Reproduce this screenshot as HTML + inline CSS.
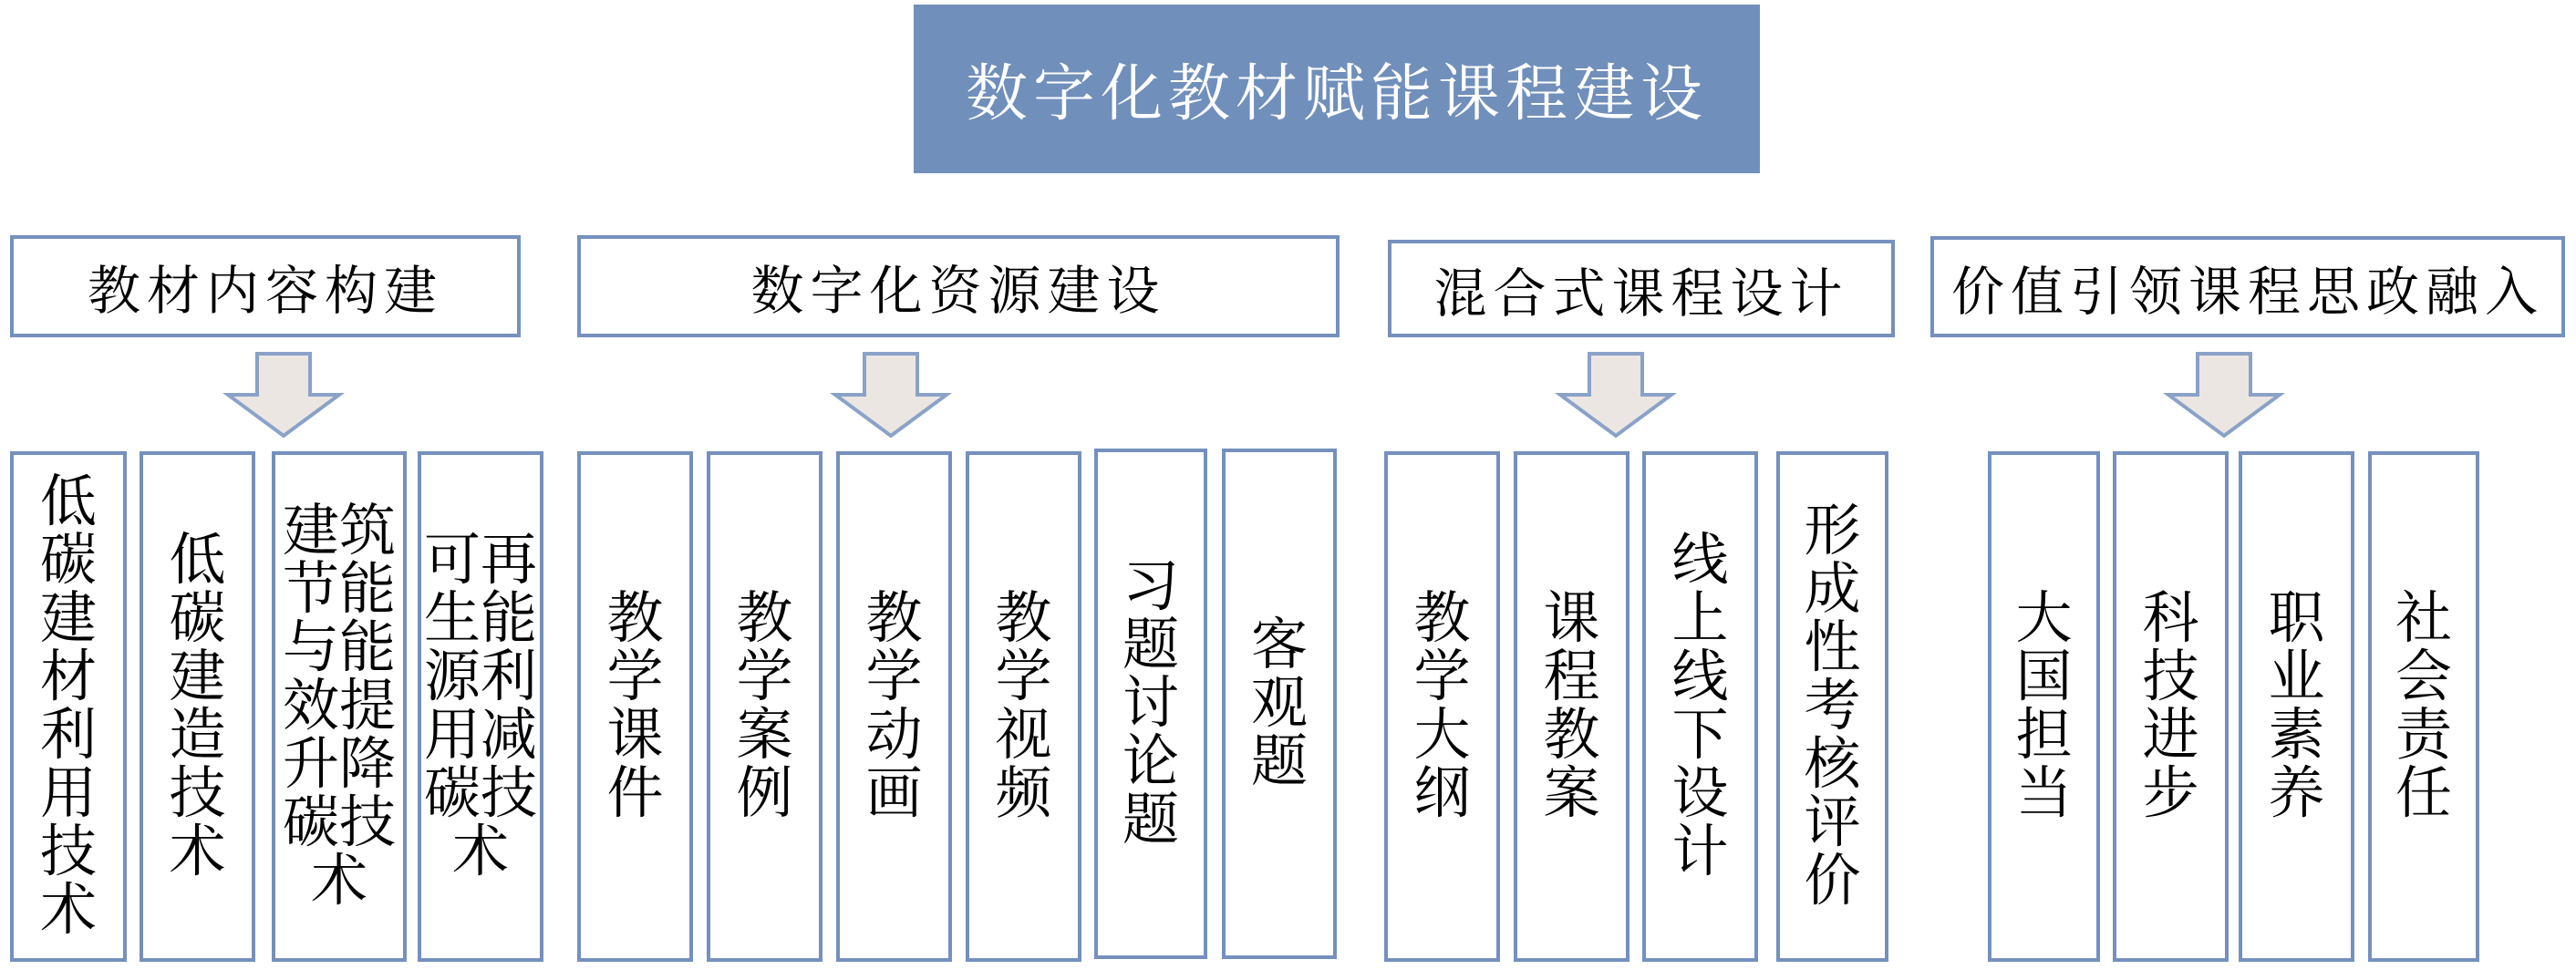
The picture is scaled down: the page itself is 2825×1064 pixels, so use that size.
<!DOCTYPE html>
<html><head><meta charset="utf-8"><style>
html,body{margin:0;padding:0;background:#fff;}
body{width:2825px;height:1064px;position:relative;overflow:hidden;font-family:"Liberation Serif","Noto Serif CJK SC",serif;color:#000;}
.b{position:absolute;box-sizing:border-box;border:4px solid #7590be;display:flex;align-items:center;justify-content:center;background:#fff;}
.t{position:absolute;left:1002px;top:5px;width:928px;height:185px;background:#708fbb;color:#fff;display:flex;align-items:center;justify-content:center;font-size:68px;letter-spacing:6px;}
.h{font-size:58px;letter-spacing:7px;white-space:nowrap;}
.v{font-size:62px;line-height:64px;text-align:center;word-break:break-all;}
.v1{width:64px;}
.v2{width:128px;}
</style></head><body>
<div class="t">数字化教材赋能课程建设</div>

<div class="b h" style="left:11px;top:258px;width:560px;height:112px;">教材内容构建</div>
<div class="b h" style="left:633px;top:258px;width:836px;height:112px;">数字化资源建设</div>
<div class="b h" style="left:1522px;top:263px;width:556px;height:107px;">混合式课程设计</div>
<div class="b h" style="left:2117px;top:259px;width:696px;height:111px;">价值引领课程思政融入</div>

<svg width="2825" height="1064" style="position:absolute;left:0;top:0;" xmlns="http://www.w3.org/2000/svg">
<g fill="#ece6e2" stroke="#8aa2c8" stroke-width="4">
<polygon points="282,388 340,388 340,433 372,433 311,478 250,433 282,433"/>
<polygon points="948,388 1006,388 1006,433 1038,433 977,478 916,433 948,433"/>
<polygon points="1743,388 1801,388 1801,433 1833,433 1772,478 1711,433 1743,433"/>
<polygon points="2410,388 2468,388 2468,433 2500,433 2439,478 2378,433 2410,433"/>
</g>
</svg>

<div class="b" style="left:11px;top:495px;width:128px;height:560px;"><div class="v v1">低碳建材利用技术</div></div>
<div class="b" style="left:153px;top:495px;width:127px;height:560px;"><div class="v v1">低碳建造技术</div></div>
<div class="b" style="left:298px;top:495px;width:148px;height:560px;"><div class="v v2">建筑节能与能效提升降碳技术</div></div>
<div class="b" style="left:458px;top:495px;width:138px;height:560px;"><div class="v v2">可再生能源利用减碳技术</div></div>

<div class="b" style="left:633px;top:495px;width:127px;height:560px;"><div class="v v1">教学课件</div></div>
<div class="b" style="left:775px;top:495px;width:127px;height:560px;"><div class="v v1">教学案例</div></div>
<div class="b" style="left:917px;top:495px;width:127px;height:560px;"><div class="v v1">教学动画</div></div>
<div class="b" style="left:1059px;top:495px;width:127px;height:560px;"><div class="v v1">教学视频</div></div>
<div class="b" style="left:1200px;top:492px;width:124px;height:560px;"><div class="v v1">习题讨论题</div></div>
<div class="b" style="left:1340px;top:492px;width:126px;height:560px;"><div class="v v1">客观题</div></div>

<div class="b" style="left:1518px;top:495px;width:127px;height:560px;"><div class="v v1">教学大纲</div></div>
<div class="b" style="left:1660px;top:495px;width:127px;height:560px;"><div class="v v1">课程教案</div></div>
<div class="b" style="left:1801px;top:495px;width:127px;height:560px;"><div class="v v1">线上线下设计</div></div>
<div class="b" style="left:1948px;top:495px;width:123px;height:560px;"><div class="v v1">形成性考核评价</div></div>

<div class="b" style="left:2180px;top:495px;width:123px;height:560px;"><div class="v v1">大国担当</div></div>
<div class="b" style="left:2317px;top:495px;width:127px;height:560px;"><div class="v v1">科技进步</div></div>
<div class="b" style="left:2455px;top:495px;width:127px;height:560px;"><div class="v v1">职业素养</div></div>
<div class="b" style="left:2597px;top:495px;width:122px;height:560px;"><div class="v v1">社会责任</div></div>
</body></html>
